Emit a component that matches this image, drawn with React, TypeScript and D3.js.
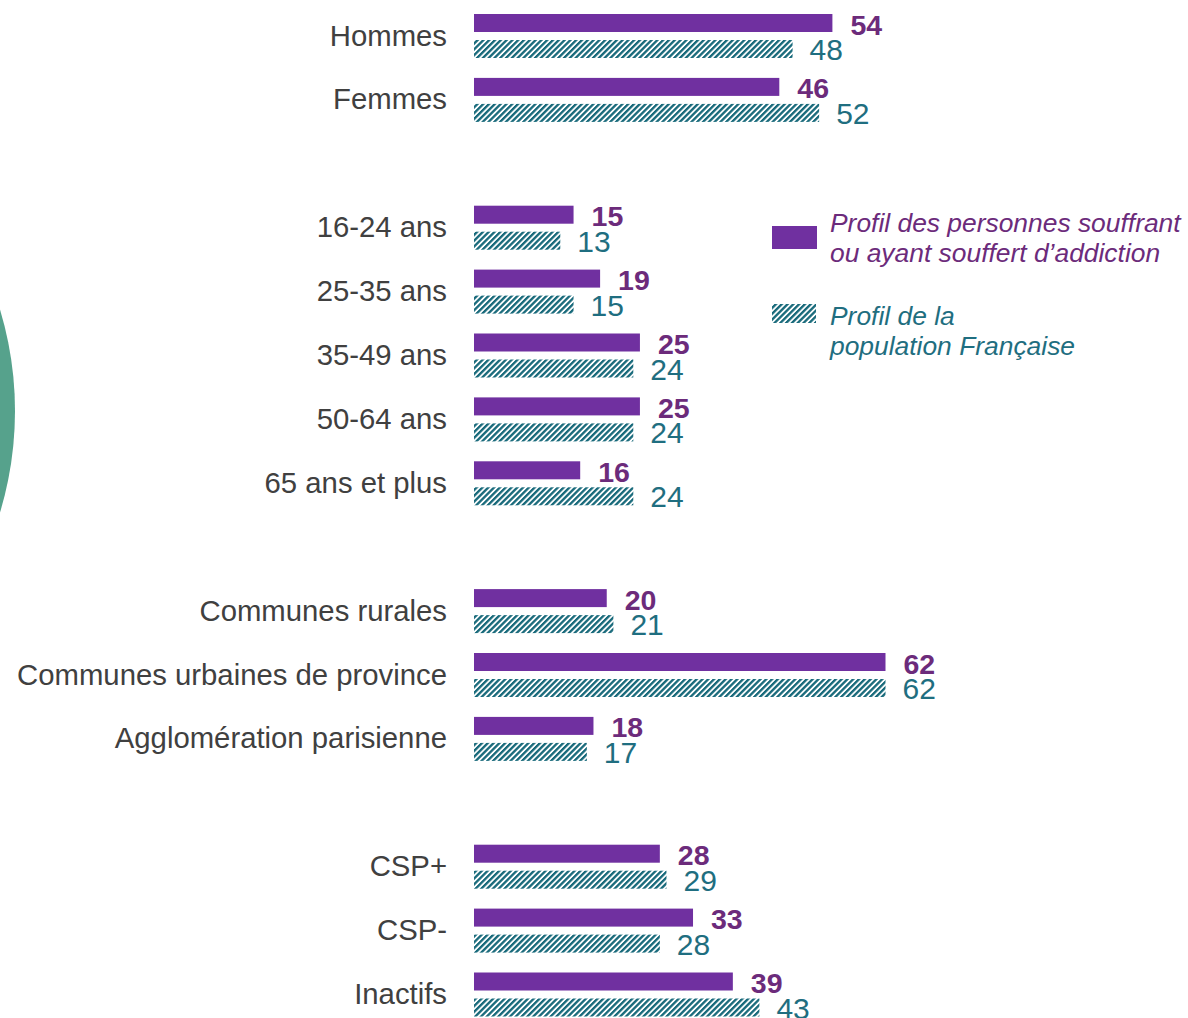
import React from "react";
import * as d3 from "d3";

const groups: string[][] = [
  ["Hommes", "Femmes"],
  ["16-24 ans", "25-35 ans", "35-49 ans", "50-64 ans", "65 ans et plus"],
  ["Communes rurales", "Communes urbaines de province", "Agglomération parisienne"],
  ["CSP+", "CSP-", "Inactifs"],
];
const categories: string[] = groups.flat();
const addiction: number[] = [54, 46, 15, 19, 25, 25, 16, 20, 62, 18, 28, 33, 39];
const population: number[] = [48, 52, 13, 15, 24, 24, 24, 21, 62, 17, 29, 28, 43];
const legendAddiction = ["Profil des personnes souffrant", "ou ayant souffert d\u2019addiction"];
const legendPopulation = ["Profil de la", "population Française"];

const W = 1188;
const H = 1018;
const FONT = "'Liberation Sans', Arial, Helvetica, sans-serif";
const PURPLE = "#7030a0";
const PURPLE_TXT = "#6c2b7b";
const TEAL = "#17697a";
const TEAL_TXT = "#1f6e80";
const LABEL = "#404040";

export default function App() {
  const slots: string[] = [];
  groups.forEach((g, gi) => {
    if (gi > 0) slots.push(`__gap${gi}`);
    g.forEach((c) => slots.push(c));
  });
  const step = 63.9;
  const y = d3
    .scaleBand<string>()
    .domain(slots)
    .range([8, 8 + step * slots.length])
    .paddingInner(0)
    .paddingOuter(0);
  const x = d3.scaleLinear().domain([0, 62]).range([474, 885.5]);

  const barH = 18;
  return (
    <svg
      width={W}
      height={H}
      style={{ position: "absolute", left: 0, top: 0, display: "block", background: "#fff" }}
      fontFamily={FONT}
    >
      <defs>
        <pattern
          id="hatch"
          patternUnits="userSpaceOnUse"
          width={4.1}
          height={4.1}
          patternTransform="rotate(45)"
        >
          <rect x={0} y={0} width={2.3} height={4.1} fill={TEAL} />
        </pattern>
      </defs>
      <rect x={0} y={0} width={W} height={H} fill="#fff" />
      <circle cx={-336} cy={411} r={351} fill="#56a28c" />

      {categories.map((c, i) => {
        const s = y(c)!;
        return (
          <g key={c}>
            <text x={447} y={s + 37.5} textAnchor="end" fontSize={29.3} fill={LABEL}>
              {c}
            </text>
            <rect x={x(0)} y={s + 6} width={x(addiction[i]) - x(0)} height={barH} fill={PURPLE} />
            <rect x={x(0)} y={s + 32} width={x(population[i]) - x(0)} height={barH} fill="url(#hatch)" />
            <text
              x={x(addiction[i]) + 18}
              y={s + 26.5}
              fontSize={28.5}
              fontWeight="bold"
              fill={PURPLE_TXT}
            >
              {addiction[i]}
            </text>
            <text x={x(population[i]) + 17} y={s + 52} fontSize={30} fill={TEAL_TXT}>
              {population[i]}
            </text>
          </g>
        );
      })}

      <rect x={772} y={226} width={45} height={23} fill={PURPLE} />
      {legendAddiction.map((t, i) => (
        <text key={t} x={830} y={232 + i * 30} fontSize={26.4} fontStyle="italic" fill={PURPLE_TXT}>
          {t}
        </text>
      ))}
      <rect x={772} y={304} width={44} height={19} fill="url(#hatch)" />
      {legendPopulation.map((t, i) => (
        <text key={t} x={830} y={325 + i * 30} fontSize={26.4} fontStyle="italic" fill={TEAL_TXT}>
          {t}
        </text>
      ))}
    </svg>
  );
}
